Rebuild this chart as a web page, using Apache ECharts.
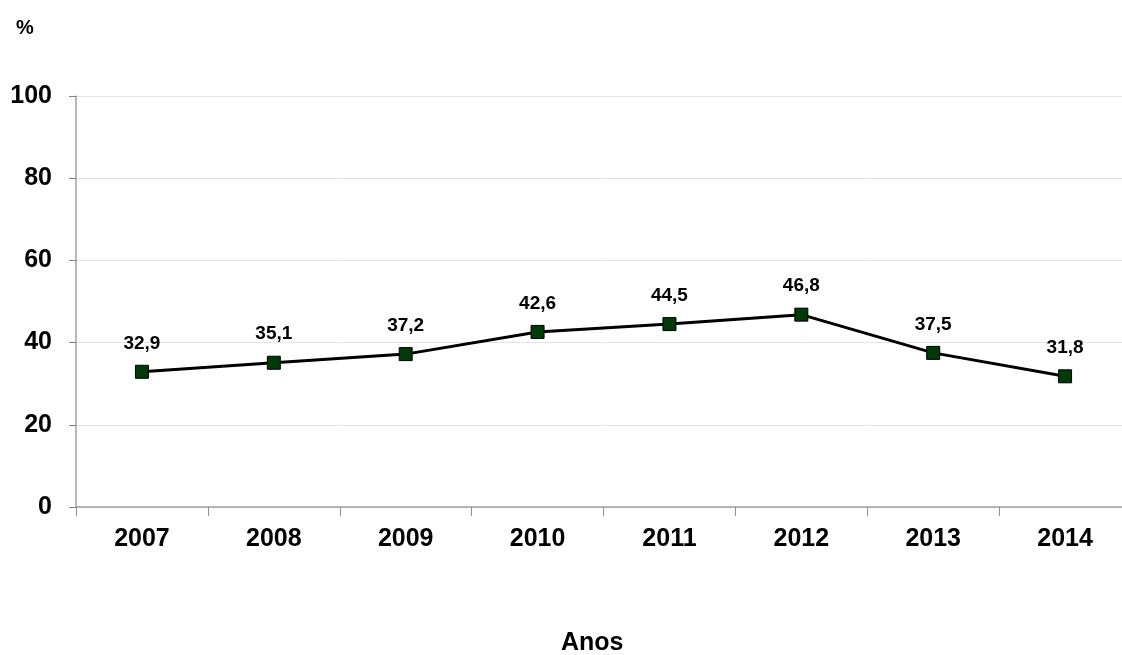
<!DOCTYPE html>
<html>
<head>
<meta charset="utf-8">
<script src="https://cdn.jsdelivr.net/npm/echarts@6/dist/echarts.min.js"></script>
<style>
  html, body { margin: 0; padding: 0; background: #fff; overflow: hidden; }
  /* canvas is a little wider than the window so the plot runs off the right edge */
  #chart { width: 1131px; height: 655px; }
</style>
</head>
<body>
<div id="chart"></div>
<script>
// Percentage per year
const years = ['2007', '2008', '2009', '2010', '2011', '2012', '2013', '2014'];
const values = [32.9, 35.1, 37.2, 42.6, 44.5, 46.8, 37.5, 31.8];
const yTicks = [0, 20, 40, 60, 80, 100];

const fontFamily = 'Liberation Sans, Arial, sans-serif';
const chart = echarts.init(document.getElementById('chart'), null, { renderer: 'canvas' });

chart.setOption({
  backgroundColor: '#ffffff',
  animation: false,
  grid: { left: 76, right: 0, top: 96, height: 411, containLabel: false, outerBoundsMode: 'none' },
  graphic: [
    { type: 'text', left: 16, top: 18, style: { text: '%', font: 'bold 20px ' + fontFamily, fill: '#000' } },
    { type: 'text', left: 561, top: 631, style: { text: 'Anos', font: 'bold 25px ' + fontFamily, fill: '#000' } }
  ],
  xAxis: {
    type: 'category',
    data: years,
    boundaryGap: true,
    axisLine: { show: true, lineStyle: { color: '#a0a0a0', width: 1.5 } },
    axisTick: { show: true, length: 9, lineStyle: { color: '#909090', width: 1 } },
    axisLabel: { margin: 20, color: '#000', fontWeight: 'bold', fontSize: 25, fontFamily: fontFamily },
    splitLine: { show: false }
  },
  yAxis: {
    type: 'value',
    min: yTicks[0],
    max: yTicks[yTicks.length - 1],
    interval: yTicks[1] - yTicks[0],
    axisLine: { show: true, lineStyle: { color: '#a0a0a0', width: 1.5 } },
    axisTick: { show: true, length: 7, lineStyle: { color: '#808080', width: 1 } },
    axisLabel: {
      margin: 24, color: '#000', fontWeight: 'bold', fontSize: 25, fontFamily: fontFamily,
      formatter: v => yTicks.includes(v) ? String(v) : ''
    },
    splitLine: { show: true, lineStyle: { color: '#e4e4e4', width: 1 } }
  },
  series: [{
    type: 'line',
    data: values,
    symbol: 'rect',
    symbolSize: 13,
    itemStyle: { color: '#003a06', borderColor: '#000', borderWidth: 1 },
    lineStyle: { color: '#000', width: 3 },
    label: {
      show: true,
      position: 'top',
      distance: 12,
      color: '#000',
      fontWeight: 'bold',
      fontSize: 19,
      fontFamily: fontFamily,
      formatter: p => p.value.toFixed(1).replace('.', ',')
    }
  }]
});
</script>
</body>
</html>
